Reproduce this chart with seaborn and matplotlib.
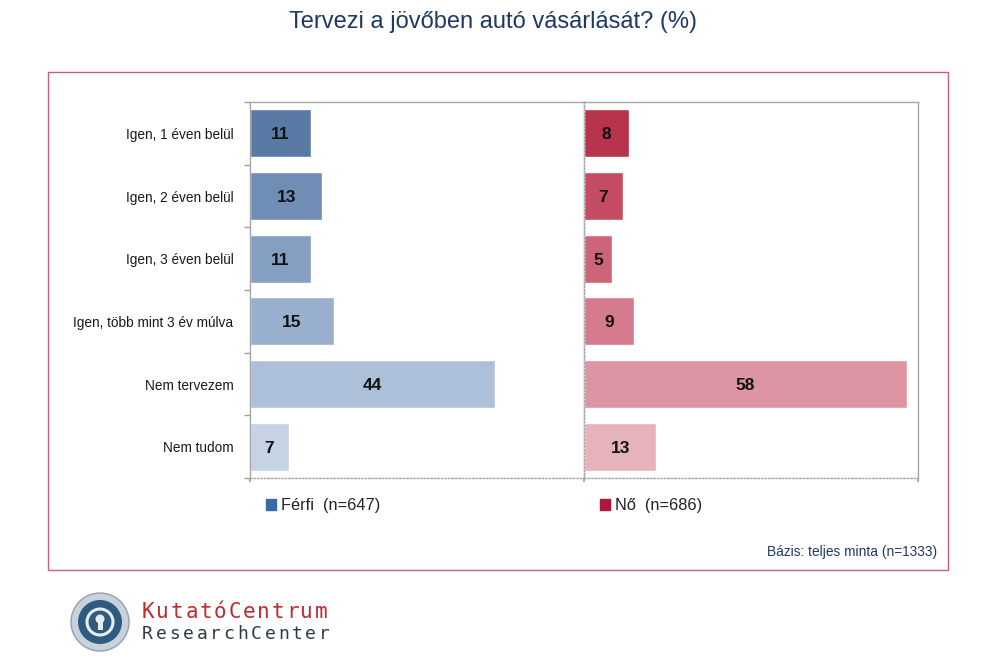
import matplotlib
matplotlib.use("Agg")
import matplotlib.pyplot as plt
import matplotlib.patches as mpatches
from matplotlib.ticker import FixedLocator
import seaborn as sns
import pandas as pd

categories = ["Igen, 1 éven belül", "Igen, 2 éven belül", "Igen, 3 éven belül",
              "Igen, több mint 3 év múlva", "Nem tervezem", "Nem tudom"]
ferfi = [11, 13, 11, 15, 44, 7]
no = [8, 7, 5, 9, 58, 13]
ferfi_label = "Férfi  (n=647)"
no_label = "Nő  (n=686)"
title = "Tervezi a jövőben autó vásárlását? (%)"
base_note = "Bázis: teljes minta (n=1333)"

ferfi_colors = ["#5a7aa6", "#6f8db5", "#849fc2", "#98b0cd", "#adc0d9", "#c6d3e5"]
no_colors = ["#b8334c", "#c44d63", "#cd6579", "#d57b8d", "#dd95a3", "#e6b3bd"]

sns.set_theme(style="white")
FONT = ["Liberation Sans", "DejaVu Sans"]
plt.rcParams["font.family"] = FONT

fig = plt.figure(figsize=(10, 6.67), dpi=100)
W, H = 1000, 667

def fx(x):
    return x / W

def fy(y):
    return 1 - y / H

# outer frame
fig.patches.append(mpatches.Rectangle((fx(48), fy(570)), fx(900), 498 / H,
                                      transform=fig.transFigure, fill=False,
                                      edgecolor="#c7607a", lw=1.0))

fig.text(0.493, fy(22), title, ha="center", va="center", fontsize=17, color="#1f3864")

ax1 = fig.add_axes([fx(250), fy(478), 334 / W, 376 / H])
ax2 = fig.add_axes([fx(584), fy(478), 334 / W, 376 / H])

df1 = pd.DataFrame({"cat": categories, "val": ferfi})
df2 = pd.DataFrame({"cat": categories, "val": no})

sns.barplot(data=df1, x="val", y="cat", hue="cat", palette=ferfi_colors,
            orient="h", width=0.77, legend=False, ax=ax1, saturation=1)
sns.barplot(data=df2, x="val", y="cat", hue="cat", palette=no_colors,
            orient="h", width=0.77, legend=False, ax=ax2, saturation=1)

for ax in (ax1, ax2):
    ax.set_xlim(0, 60)
    ax.set_ylim(5.5, -0.5)
    ax.set_xlabel("")
    ax.set_ylabel("")
    ax.set_xticks([0])
    ax.set_xticklabels([])
    ax.tick_params(axis="x", length=3, color="#a0a0a0", direction="out", bottom=True)
    for c in ax.containers:
        texts = ax.bar_label(c, label_type="center", fontsize=12.5, fontweight="bold",
                             color="#111111")
        for t in texts:
            t.set_va("center_baseline")
    for s in ax.spines.values():
        s.set_color("#a6a6a6")
        s.set_linewidth(1.0)
    ax.spines["bottom"].set_linestyle((0, (1, 1.5)))
    ax.set_facecolor("none")

ax1.spines["right"].set_linestyle((0, (1, 1.5)))
ax2.spines["left"].set_linestyle((0, (1, 1.5)))
ax1.tick_params(axis="y", which="major", length=0, pad=12, labelsize=9.8, labelcolor="#1a1a1a")
ax1.yaxis.set_minor_locator(FixedLocator([-0.5, 0.5, 1.5, 2.5, 3.5, 4.5, 5.5]))
ax1.tick_params(axis="y", which="minor", length=4, color="#a0a0a0", direction="out", left=True)
ax2.set_yticks([])
ax2.set_xticks([0, 60])

h1 = mpatches.Patch(color="#3d6aa5", label=ferfi_label)
h2 = mpatches.Patch(color="#b0183a", label=no_label)
for ax, h in ((ax1, h1), (ax2, h2)):
    ax.legend(handles=[h], loc="upper left", bbox_to_anchor=(0.005, -0.015),
              frameon=False, handlelength=0.6, handleheight=0.6,
              handletextpad=0.3, fontsize=11.8, labelcolor="#222222")

fig.text(fx(937), fy(552), base_note, ha="right", va="center", fontsize=9.9, color="#1f3864")

# logo (pixel-based inches so circles stay round)
T = fig.dpi_scale_trans
def px(x, y):
    return (x / 100, (H - y) / 100)

lx, ly = 100, 622
fig.patches.append(mpatches.Circle(px(lx, ly), 0.29, transform=T,
                                   facecolor="#c9d2da", edgecolor="#8ea0b0", lw=1))
fig.patches.append(mpatches.Circle(px(lx, ly), 0.22, transform=T,
                                   facecolor="#2e5b7e", edgecolor="none"))
fig.patches.append(mpatches.Circle(px(lx, ly), 0.13, transform=T,
                                   facecolor="none", edgecolor="#e6ecf1", lw=2.2))
fig.patches.append(mpatches.Circle(px(lx, ly - 3), 0.045, transform=T,
                                   facecolor="#e6ecf1", edgecolor="none"))
fig.patches.append(mpatches.Rectangle(px(lx - 2.5, ly + 8), 0.05, 0.12, transform=T,
                                      facecolor="#e6ecf1", edgecolor="none"))

for i, ch in enumerate("KutatóCentrum"):
    fig.text(fx(142 + i * 14.4), fy(612), ch, fontsize=15, color="#c0282f",
             family="DejaVu Sans Mono", ha="left", va="center")
for i, ch in enumerate("ResearchCenter"):
    fig.text(fx(142 + i * 13.6), fy(634), ch, fontsize=13, color="#2a3b48",
             family="DejaVu Sans Mono", ha="left", va="center")

fig.savefig("out.png", dpi=100)
